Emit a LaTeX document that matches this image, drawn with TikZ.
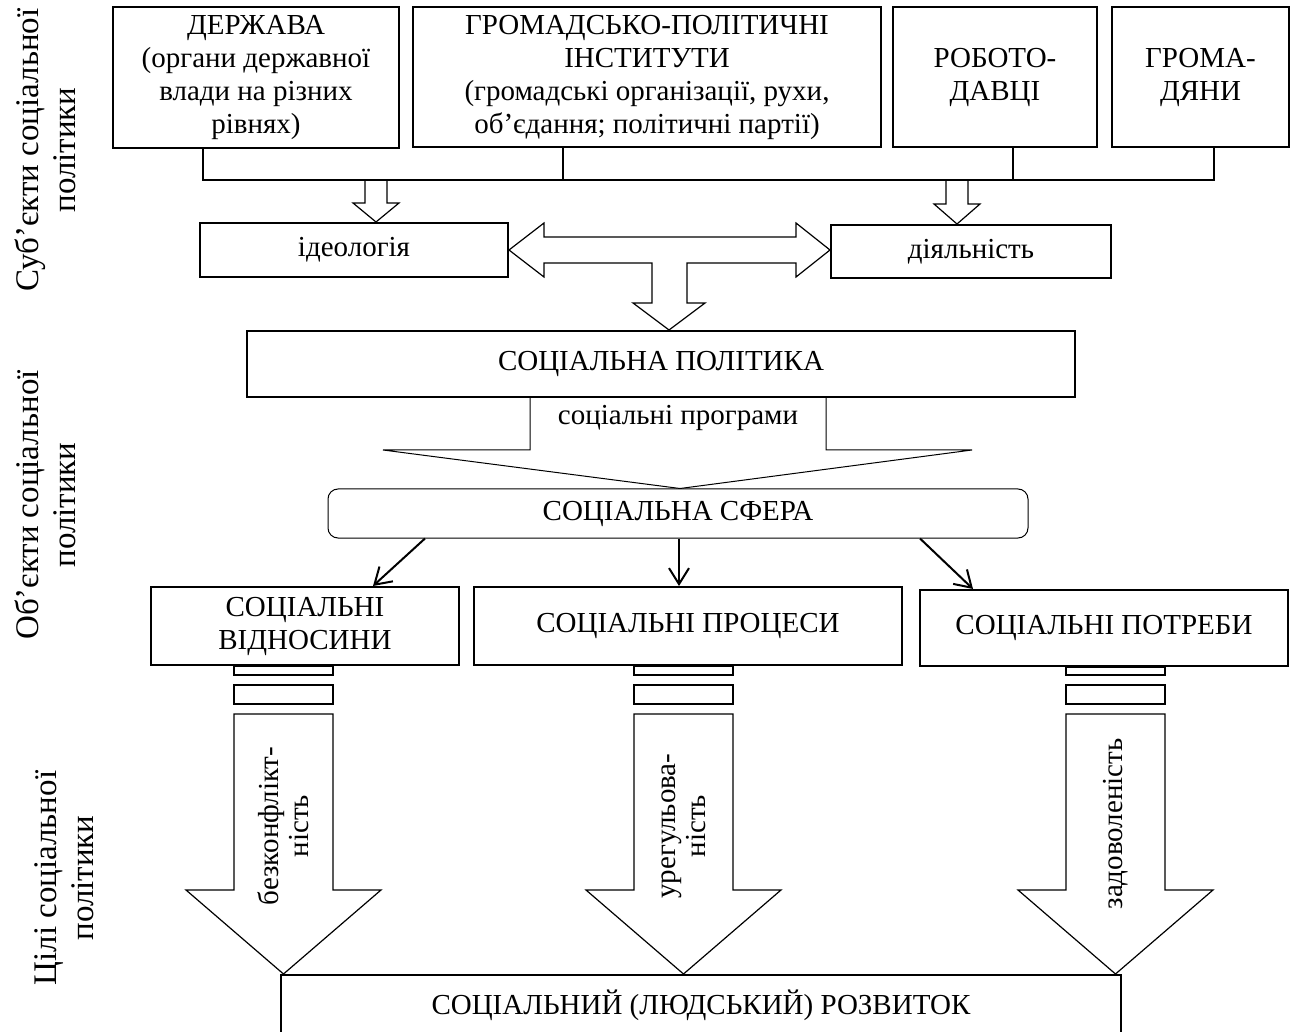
\documentclass[tikz,border=0pt]{standalone}
\usepackage{fontspec}
\setmainfont{Liberation Serif}
\usetikzlibrary{positioning,shapes,arrows.meta}

\begin{document}
\begin{tikzpicture}[x=0.5pt,y=-0.5pt,
  every node/.style={font=\fontsize{14.5}{16.5}\selectfont},
  box/.style={rectangle,draw,line width=1pt,inner sep=0pt,align=center},
  side/.style={rotate=90,align=center,font=\fontsize{16.5}{18.5}\selectfont},
  vert/.style={rotate=90,align=center,font=\fontsize{14.5}{15}\selectfont},
  slim/.style={line width=0.5pt},
  hollow/.style={draw,line width=0.6pt},
  arr/.style={line width=1pt,-{Straight Barb[length=8pt,width=10pt]}}]
\useasboundingbox (0,0) rectangle (1292,1032);
\clip (0,0) rectangle (1292,1032);

\node [side] (subj) at (45,150) {Суб’єкти соціальної\\політики};
\node [side] (obj) at (45,505) {Об’єкти соціальної\\політики};
\node [side] (goal) at (64,878) {Цілі соціальної\\політики};

\node [box,minimum width=143pt,minimum height=70.5pt] (derzh) at (256,77.5) {ДЕРЖАВА\\(органи державної\\влади на різних\\рівнях)};
\node [box,minimum width=234pt,minimum height=70pt] (inst) at (647,77) {ГРОМАДСЬКО-ПОЛІТИЧНІ\\ІНСТИТУТИ\\(громадські організації, рухи,\\об’єдання; політичні партії)};
\node [box,minimum width=102pt,minimum height=70pt] (empl) at (995,77) {РОБОТО-\\ДАВЦІ};
\node [box,minimum width=88.5pt,minimum height=70pt] (citz) at (1200.5,77) {ГРОМА-\\ДЯНИ};

\node [box,minimum width=154pt,minimum height=27pt] (ideo) at (354,250) {ідеологія};
\node [box,minimum width=140pt,minimum height=26.5pt] (act) at (971,251.5) {діяльність};
\node [box,minimum width=414pt,minimum height=33pt] (pol) at (661,364) {СОЦІАЛЬНА ПОЛІТИКА};
\node (prog) at (678,418) {соціальні програми};
\node [box,slim,rounded corners=5pt,minimum width=350pt,minimum height=24.5pt] (sphere) at (678,513.5) {СОЦІАЛЬНА СФЕРА};

\node [box,minimum width=154pt,minimum height=39pt] (rel) at (305,626) {СОЦІАЛЬНІ\\ВІДНОСИНИ};
\node [box,minimum width=214pt,minimum height=39pt] (proc) at (688,626) {СОЦІАЛЬНІ ПРОЦЕСИ};
\node [box,minimum width=184pt,minimum height=38pt] (need) at (1104,628) {СОЦІАЛЬНІ ПОТРЕБИ};
\node [box,minimum width=420pt,minimum height=30pt] (dev) at (701,1005) {СОЦІАЛЬНИЙ (ЛЮДСЬКИЙ) РОЗВИТОК};

\coordinate (b1) at (203,180);
\coordinate (b2) at (563,180);
\coordinate (b3) at (1013,180);
\coordinate (b4) at (1214,180);
\draw [line width=1pt] (derzh.south -| b1) -- (b1) -- (b4) -- (citz.south -| b4);
\draw [line width=1pt] (inst.south -| b2) -- (b2);
\draw [line width=1pt] (empl.south -| b3) -- (b3);

\draw [hollow] (365,181) -- (365,203) -- (353,203) -- (ideo.north -| 376,0) -- (399,203) -- (387,203) -- (387,181);
\draw [hollow] (946,181) -- (946,204) -- (934,204) -- (act.north -| 957,0) -- (980,204) -- (968,204) -- (968,181);
\draw [hollow] (ideo.east) -- (544,223) -- (544,237) -- (796,237) -- (796,223) -- (act.west |- 0,250) -- (796,277) -- (796,263) -- (687,263) -- (687,303) -- (705,303) -- (pol.north -| 669,0) -- (633,303) -- (652,303) -- (652,263) -- (544,263) -- (544,277) -- cycle;

\draw [slim] (pol.south -| 530,0) -- (530,450) -- (383,450) -- (sphere.north -| 680,0) -- (972,450) -- (826,450) -- (pol.south -| 826,0);

\draw [arr] (sphere.south -| 425,0) -- (rel.north -| 373,0);
\draw [arr] (sphere.south -| 679,0) -- (proc.north -| 679,0);
\draw [arr] (sphere.south -| 920,0) -- (need.north -| 973,0);

\draw [hollow] (rel.south -| 234,0) rectangle (333,675);
\draw [hollow] (234,685) rectangle (333,704);
\draw [hollow] (234,714) -- (234,890) -- (186,890) -- (dev.north -| 283.5,0) -- (381,890) -- (333,890) -- (333,714) -- cycle;
\draw [hollow] (proc.south -| 634,0) rectangle (733,675);
\draw [hollow] (634,685) rectangle (733,704);
\draw [hollow] (634,714) -- (634,890) -- (586,890) -- (dev.north -| 683.5,0) -- (781,890) -- (733,890) -- (733,714) -- cycle;
\draw [hollow] (need.south -| 1066,0) rectangle (1165,675);
\draw [hollow] (1066,685) rectangle (1165,704);
\draw [hollow] (1066,714) -- (1066,890) -- (1018,890) -- (dev.north -| 1115.5,0) -- (1213,890) -- (1165,890) -- (1165,714) -- cycle;

\node [vert] (goal1) at (283.5,826) {безконфлікт-\\ність};
\node [vert] (goal2) at (683.5,826) {урегульова-\\ність};
\node [vert] (goal3) at (1115.5,824) {задоволеність};
\end{tikzpicture}
\end{document}
